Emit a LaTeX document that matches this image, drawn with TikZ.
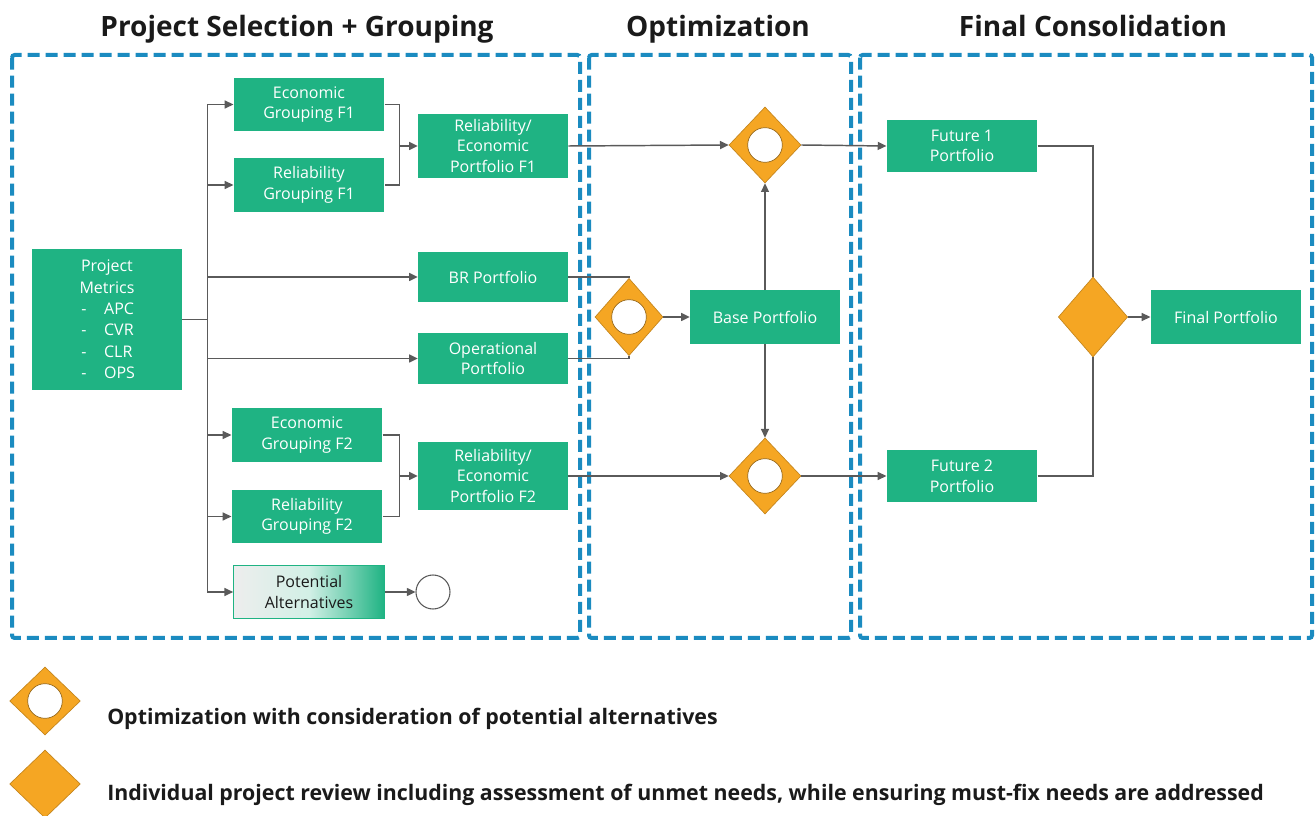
\documentclass[tikz,border=0pt]{standalone}
\usepackage{fontspec}
\setmainfont{Open Sans}
\usetikzlibrary{shapes.geometric,arrows.meta,calc}
\definecolor{grn}{HTML}{1FB383}
\definecolor{org}{HTML}{F5A623}
\definecolor{dblue}{HTML}{1B8BC0}
\definecolor{lgray}{HTML}{5A5A5A}
\definecolor{txt}{HTML}{1A1A1A}
\begin{document}
\begin{tikzpicture}[x=0.75pt,y=-0.75pt,
  box/.style={rectangle,fill=grn,text=white,align=center,inner sep=0pt,
    font=\fontsize{12}{15.5}\selectfont,minimum width=113pt,minimum height=40pt},
  altbox/.style={box,text=txt,draw=grn,line width=0.8pt,
    left color=white!93!black,right color=grn,middle color=white!80!grn},
  panel/.style={draw=dblue,line width=3pt,dash pattern=on 9pt off 4.5pt,rounded corners=2pt},
  title/.style={font=\fontsize{21}{25}\selectfont\bfseries,text=txt,anchor=base},
  legtext/.style={font=\fontsize{16}{19}\selectfont\bfseries,text=txt,anchor=base west,inner sep=0pt},
  dia/.style={diamond,fill=org,draw=org!80!black,line width=0.5pt,inner sep=0pt,
    minimum width=54pt,minimum height=57pt},
  optd/.style={dia,path picture={\draw[draw=org!60!black,fill=white,line width=0.5pt]
    (path picture bounding box.center) circle (13pt);}},
  conn/.style={draw=lgray,line width=1.1pt},
  arr/.style={conn,-{Triangle[length=6.5pt,width=6pt]}},
  endc/.style={circle,draw=lgray,fill=white,line width=0.8pt,minimum size=25.5pt,inner sep=0pt}
]
\useasboundingbox[fill=white] (0,0) rectangle (1315,816);

% titles
\node[title] (t1) at (297,37) {Project Selection + Grouping};
\node[title] (t2) at (718,37) {Optimization};
\node[title] (t3) at (1093,37) {Final Consolidation};

% panels
\draw[panel] (12,55) rectangle (580,638);
\draw[panel] (589,55) rectangle (851,638);
\draw[panel] (860,55) rectangle (1312,638);

% nodes
\node[box,minimum width=112.5pt,minimum height=106pt,font=\fontsize{12}{16}\selectfont] (pm) at (107,319.5)
  {Project\\Metrics\\\makebox[3.2em][l]{-\hspace{1.1em}APC}\\\makebox[3.2em][l]{-\hspace{1.1em}CVR}\\\makebox[3.2em][l]{-\hspace{1.1em}CLR}\\\makebox[3.2em][l]{-\hspace{1.1em}OPS}};
\node[box] (eg1) at (309,104.5) {Economic\\Grouping F1};
\node[box] (rg1) at (309,185) {Reliability\\Grouping F1};
\node[box,minimum width=112.5pt,minimum height=48pt] (re1) at (493,146) {Reliability/\\Economic\\Portfolio F1};
\node[box,minimum width=112.5pt,minimum height=37.5pt] (br) at (493,277) {BR Portfolio};
\node[box,minimum width=112.5pt,minimum height=38pt] (op) at (493,358.5) {Operational\\Portfolio};
\node[box] (eg2) at (307,435) {Economic\\Grouping F2};
\node[box] (rg2) at (307,516.5) {Reliability\\Grouping F2};
\node[box,minimum width=112.5pt,minimum height=51pt] (re2) at (493,476) {Reliability/\\Economic\\Portfolio F2};
\node[altbox] (pa) at (309,592) {Potential\\Alternatives};
\node[endc] (pc) at (433,592) {};

\node[optd] (d1) at (765,145) {};
\node[optd,minimum width=51pt,minimum height=58pt] (d0) at (629,317) {};
\node[box,minimum width=112.5pt] (base) at (765,317) {Base Portfolio};
\node[optd] (d2) at (765,476) {};

\node[box,minimum height=39pt] (f1) at (962,146) {Future 1\\Portfolio};
\node[box,minimum height=39pt] (f2) at (962,476) {Future 2\\Portfolio};
\node[dia,minimum width=52pt,minimum height=60pt] (d3) at (1093,317) {};
\node[box] (fin) at (1226,317) {Final Portfolio};

% connectors
\draw[conn] (pm.east) -- ++(25,0) coordinate (tr);
\draw[conn] (tr |- eg1.west) -- (tr |- pa.west);
\draw[arr] (tr |- eg1.west) -- (eg1.west);
\draw[arr] (tr |- rg1.west) -- (rg1.west);
\draw[arr] (tr |- br.west) -- (br.west);
\draw[arr] (tr |- op.west) -- (op.west);
\draw[arr] (tr |- eg2.west) -- (eg2.west);
\draw[arr] (tr |- rg2.west) -- (rg2.west);
\draw[arr] (tr |- pa.west) -- (pa.west);
\draw[arr] (pa.east) -- (pc.west);

\draw[conn] (eg1.east) -- ++(15,0) coordinate (j1) |- (rg1.east);
\draw[arr] (j1 |- re1.west) -- (re1.west);
\draw[conn] (eg2.east) -- ++(17,0) coordinate (j2) |- (rg2.east);
\draw[arr] (j2 |- re2.west) -- (re2.west);

\draw[arr] (re1.east) -- (d1.west);
\draw[arr] (d1.east) -- (f1.west);
\draw[conn] (br.east) -| (d0.north);
\draw[conn] (op.east) -| (d0.south);
\draw[arr] (d0.east) -- (base.west);
\draw[arr] (base.north) -- (d1.south);
\draw[arr] (base.south) -- (d2.north);
\draw[arr] (re2.east) -- (d2.west);
\draw[arr] (d2.east) -- (f2.west);

\draw[conn] (f1.east) -| (d3.north);
\draw[conn] (f2.east) -| (d3.south);
\draw[arr] (d3.east) -- (fin.west);

% legend
\node[optd,minimum width=53pt,minimum height=51pt] (l1) at (45,701) {};
\node[dia,minimum width=53pt,minimum height=51pt] (l2) at (45,784) {};
\node[legtext] (lt1) at (107,724) {Optimization with consideration of potential alternatives};
\node[legtext] (lt2) at (107,800) {Individual project review including assessment of unmet needs, while ensuring must-fix needs are addressed};
\end{tikzpicture}
\end{document}
